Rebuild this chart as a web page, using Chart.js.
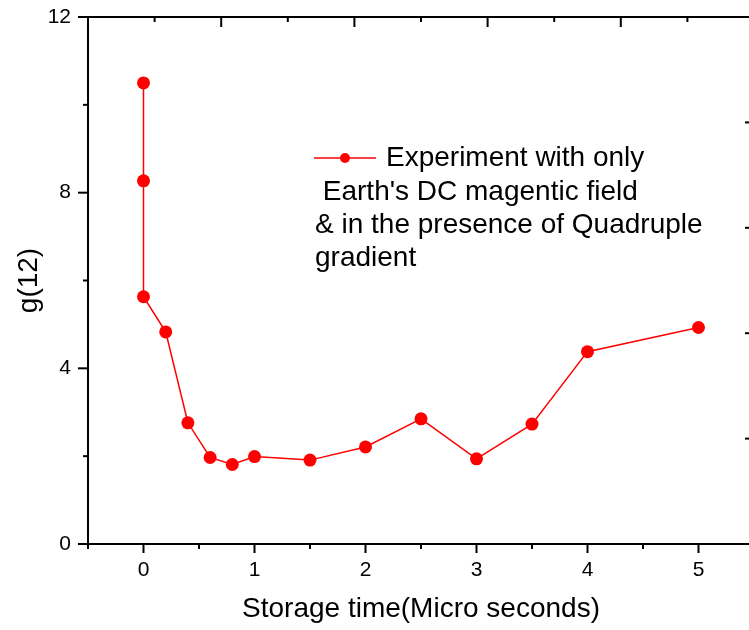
<!DOCTYPE html>
<html>
<head>
<meta charset="utf-8">
<script src="https://cdn.jsdelivr.net/npm/chart.js@4/dist/chart.umd.min.js"></script>
<style>
  html, body { margin: 0; padding: 0; background: #fff; overflow: hidden; }
  #wrap { width: 749px; height: 630px; overflow: hidden; position: relative; }
  canvas { display: block; }
</style>
</head>
<body>
<div id="wrap"><canvas id="c" width="755" height="630"></canvas></div>
<script>
  // ---- Data
  const timeUs = [0, 0, 0, 0.2, 0.4, 0.6, 0.8, 1.0, 1.5, 2.0, 2.5, 3.0, 3.5, 4.0, 5.0];
  const g12 = [10.5, 8.27, 5.63, 4.83, 2.76, 1.97, 1.81, 1.99, 1.91, 2.21, 2.85, 1.94, 2.73, 4.38, 4.93];
  const xTickVals = [0, 1, 2, 3, 4, 5];
  const yTickVals = [0, 4, 8, 12];
  const seriesLabel = ['Experiment with only', " Earth's DC magentic field", '& in the presence of Quadruple', 'gradient'];
  const xTitle = 'Storage time(Micro seconds)';
  const yTitle = 'g(12)';

  const FONT = "'Liberation Sans', Arial, sans-serif";
  const RED = '#ff0000';

  // ---- Tick marks (major/minor, inward on top & right like Origin)
  const frameTicks = {
    id: 'frameTicks',
    afterDraw(chart) {
      const { ctx, chartArea: a, scales } = chart;
      const seg = (x1, y1, x2, y2) => { ctx.beginPath(); ctx.moveTo(x1, y1); ctx.lineTo(x2, y2); ctx.stroke(); };
      ctx.save();
      ctx.strokeStyle = '#000';
      ctx.lineWidth = 2;
      for (let v = scales.x.min; v <= scales.x.max + 1e-9; v += 0.5) {
        const x = scales.x.getPixelForValue(v);
        seg(x, a.bottom, x, a.bottom + (Number.isInteger(v) ? 9 : 5));
      }
      for (let v = scales.y.min; v <= scales.y.max + 1e-9; v += 2) {
        const y = scales.y.getPixelForValue(v);
        seg(a.left - (v % 4 === 0 ? 10 : 5), y, a.left, y);
      }
      for (let v = scales.x2.min; v <= scales.x2.max + 1e-9; v += 0.5) {
        const x = scales.x2.getPixelForValue(v);
        seg(x, a.top, x, a.top + (Number.isInteger(v) ? 10 : 5));
      }
      for (let v = scales.y2.min; v <= scales.y2.max + 1e-9; v += 1) {
        const y = scales.y2.getPixelForValue(v);
        seg(a.right - 9, y, a.right, y);
      }
      ctx.restore();
    }
  };

  // ---- Legend box (multi-line label)
  const lineLegend = {
    id: 'lineLegend',
    afterDraw(chart) {
      const { ctx } = chart;
      const ds = chart.data.datasets[0];
      ctx.save();
      ctx.strokeStyle = ds.borderColor;
      ctx.lineWidth = 1.5;
      ctx.beginPath(); ctx.moveTo(314, 158); ctx.lineTo(376, 158); ctx.stroke();
      ctx.fillStyle = ds.pointBackgroundColor;
      ctx.beginPath(); ctx.arc(345, 158, 5, 0, Math.PI * 2); ctx.fill();
      ctx.fillStyle = '#000';
      ctx.font = '28px ' + FONT;
      ctx.textBaseline = 'alphabetic';
      ctx.fillText(seriesLabel[0], 386, 166);
      ctx.fillText(seriesLabel[1], 315, 200);
      ctx.fillText(seriesLabel[2], 315, 233);
      ctx.fillText(seriesLabel[3], 315, 266);
      ctx.restore();
    }
  };

  const noPad = s => { s.paddingLeft = 0; s.paddingRight = 0; s.paddingTop = 0; s.paddingBottom = 0; };

  const frameScale = (pos, min, max, size) => ({
    type: 'linear', position: pos, min, max,
    ticks: { display: false },
    grid: { display: true, drawOnChartArea: false, drawTicks: false },
    border: { display: true, color: '#000', width: 2 },
    afterFit: s => { noPad(s); if (pos === 'top') s.height = size; else s.width = size; }
  });

  new Chart(document.getElementById('c'), {
    type: 'line',
    data: {
      datasets: [{
        label: seriesLabel.join(' '),
        data: timeUs.map((t, i) => ({ x: t, y: g12[i] })),
        borderColor: RED,
        borderWidth: 1.5,
        pointBackgroundColor: RED,
        pointBorderColor: RED,
        pointBorderWidth: 0,
        pointRadius: 6.5,
        tension: 0,
        fill: false
      }]
    },
    options: {
      responsive: false,
      animation: false,
      layout: { padding: 0, autoPadding: false },
      plugins: { legend: { display: false }, tooltip: { enabled: false } },
      scales: {
        x: {
          type: 'linear', position: 'bottom', min: -0.5, max: 5.5,
          afterBuildTicks: s => { s.ticks = xTickVals.map(v => ({ value: v })); },
          afterFit: s => { noPad(s); s.height = 86; },
          grid: { display: true, drawOnChartArea: false, drawTicks: false },
          border: { display: true, color: '#000', width: 2 },
          ticks: { color: '#000', font: { family: FONT, size: 21 }, padding: 14, maxRotation: 0, autoSkip: false },
          title: { display: true, text: xTitle, color: '#000', font: { family: FONT, size: 28 }, padding: { top: 0, bottom: 4 } }
        },
        y: {
          type: 'linear', position: 'left', min: 0, max: 12,
          afterBuildTicks: s => { s.ticks = yTickVals.map(v => ({ value: v })); },
          afterFit: s => { noPad(s); s.width = 88; },
          grid: { display: true, drawOnChartArea: false, drawTicks: false },
          border: { display: true, color: '#000', width: 2 },
          ticks: { color: '#000', font: { family: FONT, size: 21 }, padding: 17 },
          title: { display: true, text: yTitle, color: '#000', font: { family: FONT, size: 28 }, padding: { top: 12, bottom: 0 } }
        },
        x2: frameScale('top', 0, 5, 17),
        y2: frameScale('right', 0, 5, 1)
      }
    },
    plugins: [frameTicks, lineLegend]
  });
</script>
</body>
</html>
